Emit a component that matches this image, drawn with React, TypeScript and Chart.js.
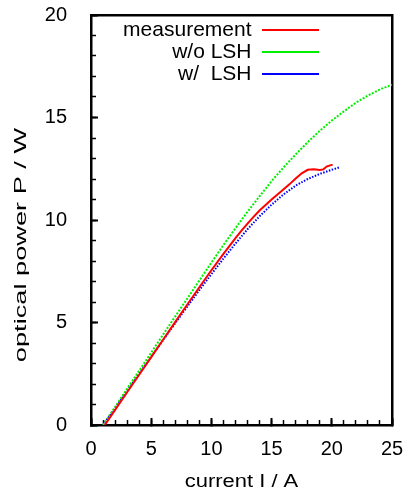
import React, { useEffect, useRef } from 'react';
import { Chart, registerables } from 'chart.js';

Chart.register(...registerables);

// ---- data ----
const measCurrent = [1.15, 2, 3, 4, 5, 6, 7, 8, 9, 10, 11, 12, 12.5, 13, 13.5, 14, 15, 16, 16.5, 17, 17.5, 18, 18.5, 19, 19.3, 19.6, 20.07];
const measPower = [0, 0.74, 1.6, 2.45, 3.31, 4.17, 5.03, 5.88, 6.72, 7.55, 8.35, 9.12, 9.48, 9.82, 10.15, 10.46, 11.0, 11.5, 11.75, 12.02, 12.28, 12.45, 12.48, 12.44, 12.47, 12.62, 12.7];

const woCurrent = [1, 2, 3, 4, 5, 6, 7, 8, 9, 10, 11, 12, 13, 14, 15, 16, 17, 18, 19, 20, 21, 22, 23, 24, 25];
const woPower = [0, 0.88, 1.77, 2.65, 3.53, 4.42, 5.3, 6.17, 7.05, 7.92, 8.78, 9.6, 10.4, 11.16, 11.9, 12.57, 13.2, 13.8, 14.35, 14.85, 15.3, 15.72, 16.07, 16.37, 16.6];

const wCurrent = [1, 2, 3, 4, 5, 6, 7, 8, 9, 10, 11, 12, 13, 14, 15, 16, 17, 18, 19, 20, 20.6];
const wPower = [0, 0.82, 1.66, 2.5, 3.33, 4.15, 4.97, 5.78, 6.58, 7.36, 8.12, 8.85, 9.55, 10.18, 10.75, 11.25, 11.68, 12.0, 12.25, 12.45, 12.56];

const seriesLabels = ['measurement', 'w/o LSH', 'w/  LSH'];
const xMajorTicks = [0, 5, 10, 15, 20, 25];
const xMinorTicks = [0, 1, 2, 3, 4, 5, 6, 7, 8, 9, 10, 11, 12, 13, 14, 15, 16, 17, 18, 19, 20, 21, 22, 23, 24, 25];
const yMajorTicks = [0, 5, 10, 15, 20];
const yMinorTicks = [0, 1, 2, 3, 4, 5, 6, 7, 8, 9, 10, 11, 12, 13, 14, 15, 16, 17, 18, 19, 20];
const xTitle = 'current I / A';
const yTitle = 'optical power P / W';

const FONT = '"Liberation Sans", Arial, Helvetica, sans-serif';

const toPoints = (xs: number[], ys: number[]) => xs.map((x, i) => ({ x, y: ys[i] }));

const fitTo = (size: { width?: number; height?: number }) => (s: any) => {
  if (size.width !== undefined) s.width = size.width;
  if (size.height !== undefined) s.height = size.height;
  s.paddingLeft = 0;
  s.paddingRight = 0;
  s.paddingTop = 0;
  s.paddingBottom = 0;
};

const gnuplotPlugin = {
  id: 'gnuplotLook',
  afterLayout(chart: any) {
    const lg = chart.legend;
    const ca = chart.chartArea;
    if (!lg || !ca) return;
    const pad = lg.options.labels.padding;
    const rightEdge = 319;
    lg.left = ca.left;
    lg.top = 18.5;
    lg.width = rightEdge + pad - ca.left;
    lg.right = lg.left + lg.width;
    lg.bottom = ca.bottom;
    lg.height = lg.bottom - lg.top;
  },
  beforeDraw(chart: any) {
    const specs: [string, number, number][] = [
      ['x', 1.22, 0],
      ['y', 1.6, 25],
    ];
    for (const [id, factor, shift] of specs) {
      const scale = chart.scales[id];
      if (!scale || scale.__stretched) continue;
      const proto = Object.getPrototypeOf(scale);
      scale.drawTitle = function () {
        const ctx = this.ctx;
        ctx.save();
        if (this.isHorizontal()) {
          const cx = (this.left + this.right) / 2;
          ctx.translate(cx + shift, 0);
          ctx.scale(factor, 1);
          ctx.translate(-cx, 0);
        } else {
          const cy = (this.top + this.bottom) / 2;
          ctx.translate(0, cy + shift);
          ctx.scale(1, factor);
          ctx.translate(0, -cy);
        }
        proto.drawTitle.call(this);
        ctx.restore();
      };
      scale.__stretched = true;
    }
  },
};

export default function App() {
  const ref = useRef<HTMLCanvasElement>(null);

  useEffect(() => {
    if (!ref.current) return;
    const tickFont = { size: 20, family: FONT };
    const chart = new Chart(ref.current, {
      type: 'line',
      data: {
        datasets: [
          {
            label: seriesLabels[0],
            data: toPoints(measCurrent, measPower),
            borderColor: '#ff0000',
            backgroundColor: '#ff0000',
            borderWidth: 2,
            pointRadius: 0,
            fill: false,
            tension: 0,
          },
          {
            label: seriesLabels[1],
            data: toPoints(woCurrent, woPower),
            borderColor: '#00ee00',
            backgroundColor: '#00ee00',
            borderWidth: 2,
            borderDash: [2, 1.5],
            pointRadius: 0,
            fill: false,
            tension: 0,
          },
          {
            label: seriesLabels[2],
            data: toPoints(wCurrent, wPower),
            borderColor: '#0000ff',
            backgroundColor: '#0000ff',
            borderWidth: 2,
            borderDash: [1.5, 1.5],
            pointRadius: 0,
            fill: false,
            tension: 0,
          },
        ],
      },
      options: {
        animation: false,
        responsive: false,
        devicePixelRatio: 1,
        layout: { padding: { left: 0, right: 15, top: 15, bottom: 0 } },
        scales: {
          x: {
            type: 'linear',
            position: 'bottom',
            min: 0,
            max: 25,
            weight: 10,
            afterBuildTicks: (s: any) => { s.ticks = xMajorTicks.map((value) => ({ value })); },
            afterFit: fitTo({ height: 68 }),
            ticks: { font: tickFont, color: '#000', padding: 19.5, maxRotation: 0, autoSkip: false },
            grid: { display: true, drawOnChartArea: false, drawTicks: true, tickLength: -7, tickWidth: 2, tickColor: '#000' },
            border: { display: true, width: 2.5, color: '#000' },
            title: { display: true, text: xTitle, font: { size: 18, family: FONT }, color: '#000', padding: { top: 0, bottom: 0 } },
          },
          xMinor: {
            type: 'linear',
            position: 'bottom',
            min: 0,
            max: 25,
            weight: 0,
            afterBuildTicks: (s: any) => { s.ticks = xMinorTicks.map((value) => ({ value })); },
            afterFit: fitTo({ height: 0 }),
            ticks: { display: false },
            grid: { display: true, drawOnChartArea: false, drawTicks: true, tickLength: -5, tickWidth: 1.5, tickColor: '#000' },
            border: { display: false },
          },
          xTop: {
            type: 'linear',
            position: 'top',
            min: 0,
            max: 25,
            afterFit: fitTo({ height: 0 }),
            ticks: { display: false },
            grid: { display: false },
            border: { display: true, width: 2.5, color: '#000' },
          },
          y: {
            type: 'linear',
            position: 'left',
            min: 0,
            max: 20,
            weight: 10,
            afterBuildTicks: (s: any) => { s.ticks = yMajorTicks.map((value) => ({ value })); },
            afterFit: fitTo({ width: 91 }),
            ticks: { font: tickFont, color: '#000', padding: 31, autoSkip: false },
            grid: { display: true, drawOnChartArea: false, drawTicks: true, tickLength: -7, tickWidth: 2, tickColor: '#000' },
            border: { display: true, width: 2.5, color: '#000' },
            title: { display: true, text: yTitle, font: { size: 17, family: FONT }, color: '#000', padding: { top: 10.8, bottom: 0 } },
          },
          yMinor: {
            type: 'linear',
            position: 'left',
            min: 0,
            max: 20,
            weight: 0,
            afterBuildTicks: (s: any) => { s.ticks = yMinorTicks.map((value) => ({ value })); },
            afterFit: fitTo({ width: 0 }),
            ticks: { display: false },
            grid: { display: true, drawOnChartArea: false, drawTicks: true, tickLength: -5, tickWidth: 1.5, tickColor: '#000' },
            border: { display: false },
          },
          yRight: {
            type: 'linear',
            position: 'right',
            min: 0,
            max: 20,
            afterFit: fitTo({ width: 0 }),
            ticks: { display: false },
            grid: { display: false },
            border: { display: true, width: 2.5, color: '#000' },
          },
        },
        plugins: {
          tooltip: { enabled: false },
          legend: {
            display: true,
            position: 'chartArea',
            fullSize: false,
            align: 'start',
            rtl: true,
            labels: {
              usePointStyle: true,
              pointStyle: 'line',
              pointStyleWidth: 57,
              padding: 1,
              textAlign: 'left',
              color: '#000',
              font: { size: 21, family: FONT },
            },
          },
        },
      } as any,
      plugins: [gnuplotPlugin as any],
    });
    return () => chart.destroy();
  }, []);

  return (
    <div style={{ position: 'absolute', left: 0, top: 0, width: 407, height: 493, background: '#fff' }}>
      <canvas ref={ref} width={407} height={493} style={{ display: 'block', width: 407, height: 493 }} />
    </div>
  );
}
